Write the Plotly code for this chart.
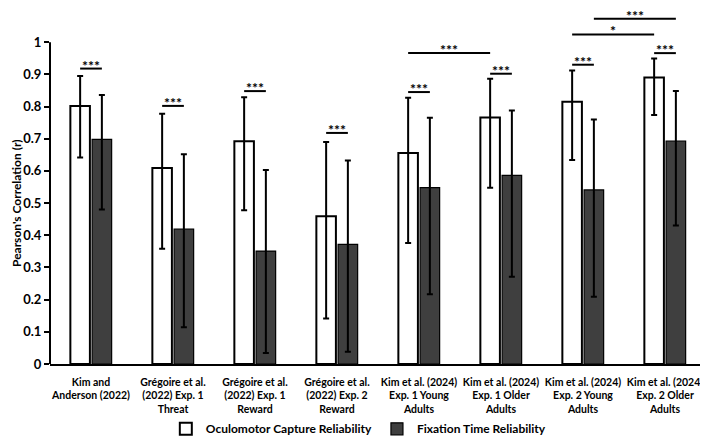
import plotly.graph_objects as go

categories = [
    "Kim and<br>Anderson (2022)",
    "Grégoire et al.<br>(2022) Exp. 1<br>Threat",
    "Grégoire et al.<br>(2022) Exp. 1<br>Reward",
    "Grégoire et al.<br>(2022) Exp. 2<br>Reward",
    "Kim et al. (2024)<br>Exp. 1 Young<br>Adults",
    "Kim et al. (2024)<br>Exp. 1 Older<br>Adults",
    "Kim et al. (2024)<br>Exp. 2 Young<br>Adults",
    "Kim et al. (2024)<br>Exp. 2 Older<br>Adults",
]
capture_mean = [0.802, 0.609, 0.692, 0.459, 0.656, 0.766, 0.815, 0.890]
capture_upper = [0.895, 0.778, 0.829, 0.690, 0.827, 0.886, 0.912, 0.949]
capture_lower = [0.642, 0.358, 0.478, 0.141, 0.376, 0.548, 0.634, 0.774]
fixation_mean = [0.698, 0.419, 0.351, 0.372, 0.548, 0.586, 0.541, 0.693]
fixation_upper = [0.836, 0.652, 0.603, 0.632, 0.765, 0.788, 0.760, 0.848]
fixation_lower = [0.480, 0.114, 0.034, 0.038, 0.217, 0.271, 0.209, 0.430]

within_sig_level = [0.918, 0.802, 0.848, 0.718, 0.845, 0.902, 0.930, 0.966]
within_sig_text = ["***"] * 8
# between-group comparisons: (group a, series a, group b, series b, level, label)
between_sig = [
    (4, "capture", 5, "capture", 0.966, "***"),
    (6, "capture", 7, "capture", 1.024, "*"),
    (6, "fixation", 7, "fixation", 1.073, "***"),
]

series_names = ["Oculomotor Capture Reliability", "Fixation Time Reliability"]

BARGAP = 0.47
BARGROUPGAP = 0.1
slot = (1 - BARGAP) / 2
offset = {"capture": -slot / 2, "fixation": slot / 2}

x_idx = list(range(len(categories)))

font_family = "Lato, 'Open Sans', sans-serif"

fig = go.Figure()
fig.add_trace(go.Bar(
    x=x_idx, y=capture_mean, name=series_names[0],
    marker=dict(color="white", line=dict(color="black", width=2)),
    error_y=dict(type="data", symmetric=False,
                 array=[u - m for u, m in zip(capture_upper, capture_mean)],
                 arrayminus=[m - l for m, l in zip(capture_mean, capture_lower)],
                 color="black", thickness=2, width=3),
))
fig.add_trace(go.Bar(
    x=x_idx, y=fixation_mean, name=series_names[1],
    marker=dict(color="#3f3f3f", line=dict(color="black", width=1.2)),
    error_y=dict(type="data", symmetric=False,
                 array=[u - m for u, m in zip(fixation_upper, fixation_mean)],
                 arrayminus=[m - l for m, l in zip(fixation_mean, fixation_lower)],
                 color="black", thickness=2, width=3),
))

shapes = []
annotations = []

def add_bracket(x0, x1, y, label):
    shapes.append(dict(type="line", xref="x", yref="y", x0=x0, x1=x1, y0=y, y1=y,
                       line=dict(color="black", width=2)))
    annotations.append(dict(x=(x0 + x1) / 2, y=y, xref="x", yref="y", text=label,
                            showarrow=False, yanchor="bottom", yshift=-6, borderpad=0,
                            font=dict(family=font_family, size=14, color="black", weight="bold")))

for i, (lvl, lab) in enumerate(zip(within_sig_level, within_sig_text)):
    add_bracket(i + offset["capture"], i + offset["fixation"], lvl, lab)

for ga, sa, gb, sb, lvl, lab in between_sig:
    add_bracket(ga + offset[sa], gb + offset[sb], lvl, lab)

# y axis line from 0 to 1
shapes.append(dict(type="line", xref="paper", yref="y", x0=0, x1=0, y0=0, y1=1,
                   line=dict(color="black", width=2)))

annotations.append(dict(text="Pearson's Correlation (r)", xref="paper", yref="y",
                        x=-0.052, y=0.5, textangle=-90, showarrow=False,
                        xanchor="center", yanchor="middle",
                        font=dict(family=font_family, size=12, color="black", weight="bold")))

fig.update_layout(
    width=708, height=437,
    margin=dict(l=42, r=10, t=2, b=74),
    paper_bgcolor="white", plot_bgcolor="white",
    barmode="group", bargap=BARGAP, bargroupgap=BARGROUPGAP,
    shapes=shapes, annotations=annotations,
    font=dict(family=font_family, color="black"),
    legend=dict(orientation="h", x=0.47, xanchor="center", y=-0.183, yanchor="middle",
                font=dict(family=font_family, size=12, color="black", weight="bold"),
                traceorder="normal", itemwidth=30),
    xaxis=dict(range=[-0.5, 7.5], tickmode="array", tickvals=x_idx, ticktext=categories,
               showline=True, linecolor="black", linewidth=2, ticks="",
               showgrid=False, zeroline=False, tickangle=0, ticklabelstandoff=7,
               automargin=False,
               tickfont=dict(family=font_family, size=10.5, color="black", weight="bold")),
    yaxis=dict(range=[0, 1.1], tickmode="array",
               tickvals=[0, 0.1, 0.2, 0.3, 0.4, 0.5, 0.6, 0.7, 0.8, 0.9, 1],
               ticktext=["0", "0.1", "0.2", "0.3", "0.4", "0.5", "0.6", "0.7", "0.8", "0.9", "1"],
               showline=False, ticks="outside", ticklen=5, tickwidth=1.5, tickcolor="black",
               showgrid=False, zeroline=False, automargin=False,
               tickfont=dict(family=font_family, size=13, color="black", weight="bold")),
)

fig.write_html("out.html")
